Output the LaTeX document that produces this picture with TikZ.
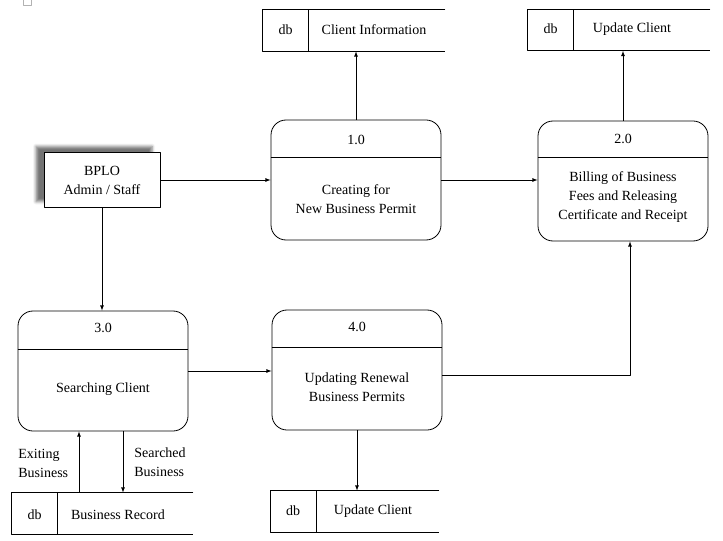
\documentclass[tikz,border=0pt]{standalone}
\usepackage{fontspec}
\setmainfont{Liberation Serif}
\usetikzlibrary{shadows.blur}
\tikzset{
  txt/.style={align=center,font=\fontsize{14bp}{19bp}\selectfont,inner sep=0},
  proc/.style={draw,rounded corners=15bp,minimum width=170bp,minimum height=120bp,inner sep=0},
  ent/.style={draw,fill=white,minimum width=116bp,minimum height=55bp,inner sep=0,
    blur shadow={shadow xshift=-8bp,shadow yshift=6bp,shadow blur radius=3bp,shadow opacity=55}},
  store/.style={minimum height=41bp,inner sep=0},
  flow/.style={->},
}
\begin{document}
\begin{tikzpicture}[>=latex,line join=bevel,x=1bp,y=-1bp,line width=0.8bp]
  \useasboundingbox (0,0) rectangle (723,541);
  \draw[gray!60,line width=0.5bp] (23,-3) rectangle (31,5);
%%
  % Node: bplo
  \node[ent,txt] (bplo) at (102,180) {BPLO\\Admin / Staff};
  % Node: p1
  \node[proc] (p1) at (356,180) {};
  \draw (p1.west |- 0,157) -- (p1.east |- 0,157);
  \node[txt] (p1n) at (356,140) {1.0};
  \node[txt] (p1t) at (356,199) {Creating for\\New Business Permit};
  % Node: p2
  \node[proc] (p2) at (623,181) {};
  \draw (p2.west |- 0,157) -- (p2.east |- 0,157);
  \node[txt] (p2n) at (623,139) {2.0};
  \node[txt] (p2t) at (623,197) {Billing of Business\\Fees and Releasing\\Certificate and Receipt};
  % Node: p3
  \node[proc] (p3) at (103,371) {};
  \draw (p3.west |- 0,349) -- (p3.east |- 0,349);
  \node[txt] (p3n) at (103,328) {3.0};
  \node[txt] (p3t) at (103,389) {Searching Client};
  % Node: p4
  \node[proc] (p4) at (357,370) {};
  \draw (p4.west |- 0,347) -- (p4.east |- 0,347);
  \node[txt] (p4n) at (357,327) {4.0};
  \node[txt] (p4t) at (357,387) {Updating Renewal\\Business Permits};
%%
  % Store: client information
  \node[store,minimum width=182bp] (s1) at (354,30.5) {};
  \draw (s1.north east) -- (s1.north west) -- (s1.south west) -- (s1.south east);
  \draw (308,10) -- (308,51);
  \node[txt] (s1d) at (285.5,30) {db};
  \node[txt] (s1t) at (374,30) {Client Information};
  % Store: update client (top)
  \node[store,minimum width=182bp] (s2) at (619,30) {};
  \draw (s2.north east) -- (s2.north west) -- (s2.south west) -- (s2.south east);
  \draw (573,9.5) -- (573,50.5);
  \node[txt] (s2d) at (550.5,29) {db};
  \node[txt] (s2t) at (632,29) {Update Client};
  % Store: business record
  \node[store,minimum width=181bp] (s3) at (102.5,513.5) {};
  \draw (s3.north east) -- (s3.north west) -- (s3.south west) -- (s3.south east);
  \draw (57,493) -- (57,534);
  \node[txt] (s3d) at (34.5,515) {db};
  \node[txt] (s3t) at (118,515) {Business Record};
  % Store: update client (bottom)
  \node[store,minimum width=168bp] (s4) at (355,511.5) {};
  \draw (s4.north east) -- (s4.north west) -- (s4.south west) -- (s4.south east);
  \draw (316,491) -- (316,532);
  \node[txt] (s4d) at (293,511) {db};
  \node[txt] (s4t) at (373,511) {Update Client};
%%
  % Edge: bplo -> p1
  \draw[flow] (bplo.east) -- (p1.west |- bplo.east);
  % Edge: p1 -> p2
  \draw[flow] (p1.east) -- (p2.west |- p1.east);
  % Edge: p1 -> s1
  \draw[flow] (p1.north) -- (p1.north |- s1.south);
  % Edge: p2 -> s2
  \draw[flow] (p2.north) -- (p2.north |- s2.south);
  % Edge: bplo -> p3
  \draw[flow] (bplo.south) -- (bplo.south |- p3.north);
  % Edge: p3 -> p4
  \draw[flow] (p3.east) -- (p4.west |- p3.east);
  % Edge: p4 -> p2
  \coordinate (p2in) at ([xshift=7bp]p2.south);
  \draw[flow] ([yshift=-5bp]p4.east) -| (p2in);
  % Edge: p4 -> s4
  \draw[flow] (p4.south) -- (p4.south |- s4.north);
  % Edge: s3 -> p3
  \coordinate (ex) at ([xshift=-24bp]p3.south);
  \draw[flow] (ex |- s3.north) -- (ex);
  \node[txt,align=left,anchor=west] (exl) at (18,463) {Exiting\\Business};
  % Edge: p3 -> s3
  \coordinate (se) at ([xshift=20bp]p3.south);
  \draw[flow] (se) -- (se |- s3.north);
  \node[txt,align=left,anchor=west] (sel) at (134,462) {Searched\\Business};
%
\end{tikzpicture}
\end{document}
